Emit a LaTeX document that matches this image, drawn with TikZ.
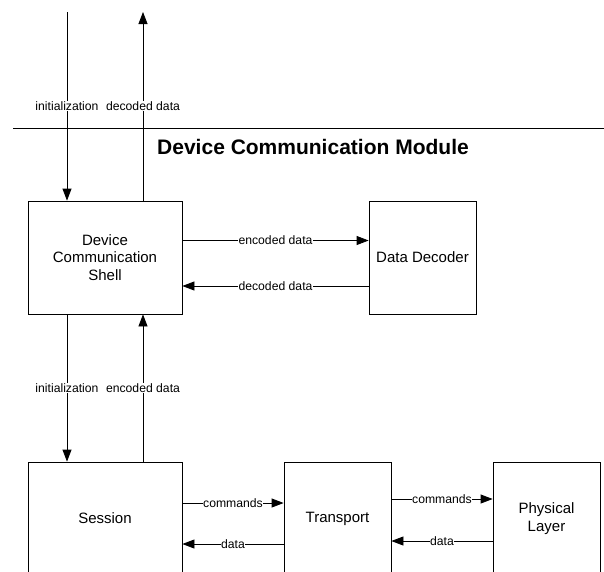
\documentclass[tikz,border=0pt]{standalone}
\usepackage{fontspec}
\setmainfont{Liberation Sans}
\usepackage{tikz}
\usetikzlibrary{arrows.meta}
\tikzstyle{block} = [draw,line width=0.8pt,minimum height=113pt,inner sep=0pt,align=center,font=\fontsize{15}{17.5}\selectfont]
\tikzstyle{flow} = [line width=0.8pt,-{Triangle[length=12pt,width=9pt]}]
\tikzstyle{lbl} = [fill=white,inner sep=0.5pt,font=\fontsize{12.2}{14}\selectfont]

\begin{document}
\begin{tikzpicture}[x=1pt,y=-1pt]
            \clip (0,0) rectangle (604,571);
            % module boundary
            \draw[line width=0.8pt] (13,128) -- (604,128);
            \node[font=\fontsize{21}{25}\selectfont\bfseries] (title) at (313,147) {Device Communication Module};
            % blocks
            \node[block,minimum width=154pt] (shell) at (105,257.5) {Device\\Communication\\Shell};
            \node[block,minimum width=107pt] (decoder) at (422.5,257.5) {Data Decoder};
            \node[block,minimum width=154pt] (session) at (105,518.5) {Session};
            \node[block,minimum width=107pt] (transport) at (337.5,518.5) {Transport};
            \node[block,minimum width=107pt] (phys) at (546.5,518.5) {Physical\\Layer};
            % outside connections
            \coordinate (initin) at (67,12);
            \coordinate (decout) at (143,12);
            \draw[flow] (initin) -- node[lbl]{initialization} ([xshift=-38pt]shell.north);
            \draw[flow] ([xshift=38pt]shell.north) -- node[lbl]{decoded data} (decout);
            % shell <-> decoder
            \draw[flow] ([yshift=17pt]shell.east) -- node[lbl]{encoded data} ([yshift=17pt]decoder.west);
            \draw[flow] ([yshift=-28.5pt]decoder.west) -- node[lbl]{decoded data} ([yshift=-28.5pt]shell.east);
            % shell <-> session
            \draw[flow] ([xshift=-38pt]shell.south) -- node[lbl]{initialization} ([xshift=-38pt]session.north);
            \draw[flow] ([xshift=38pt]session.north) -- node[lbl]{encoded data} ([xshift=38pt]shell.south);
            % protocol stack
            \draw[flow] ([yshift=15.5pt]session.east) -- node[lbl]{commands} ([yshift=15.5pt]transport.west);
            \draw[flow] ([yshift=-25.5pt]transport.west) -- node[lbl]{data} ([yshift=-25.5pt]session.east);
            \draw[flow] ([yshift=19.5pt]transport.east) -- node[lbl]{commands} ([yshift=19.5pt]phys.west);
            \draw[flow] ([yshift=-22.5pt]phys.west) -- node[lbl]{data} ([yshift=-22.5pt]transport.east);
\end{tikzpicture}
\end{document}
